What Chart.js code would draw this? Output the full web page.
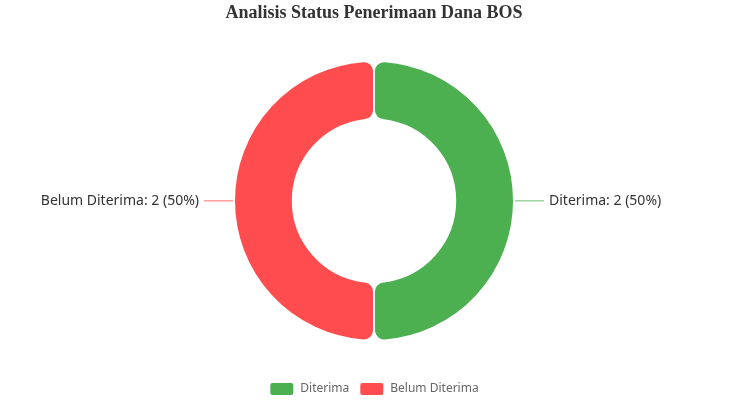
<!DOCTYPE html>
<html>
<head>
<meta charset="utf-8">
<script src="https://cdn.jsdelivr.net/npm/chart.js@4"></script>
<style>
  html, body { margin: 0; padding: 0; background: #fff; }
  #wrap { width: 748px; height: 400px; }
</style>
</head>
<body>
<div id="wrap"><canvas id="myChart"></canvas></div>
<script>
const categories = ['Diterima', 'Belum Diterima'];
const values = [2, 2];
const colors = ['#4caf50', '#ff4d4f'];
const lineColors = ['rgba(76,175,80,0.55)', 'rgba(255,77,79,0.55)'];

const total = values.reduce((a, b) => a + b, 0);

// labels outside the ring with a short leader line
const sideLabels = {
    id: 'sideLabels',
    afterDatasetsDraw(chart) {
        const c = chart.ctx;
        const meta = chart.getDatasetMeta(0);
        c.save();
        c.font = '14px "Noto Sans"';
        c.textBaseline = 'middle';
        meta.data.forEach((arc, i) => {
            const p = arc.getProps(['x', 'y', 'startAngle', 'endAngle', 'outerRadius'], true);
            const mid = (p.startAngle + p.endAngle) / 2;
            const dir = Math.cos(mid) >= 0 ? 1 : -1;
            const sx = p.x + Math.cos(mid) * (p.outerRadius + 1);
            const sy = p.y + Math.sin(mid) * (p.outerRadius + 1);
            const ex = sx + dir * 29;
            c.strokeStyle = lineColors[i];
            c.lineWidth = 1.5;
            c.beginPath();
            c.moveTo(sx, sy);
            c.lineTo(ex, sy);
            c.stroke();
            const pct = Math.round(values[i] / total * 100);
            c.fillStyle = '#333';
            c.textAlign = dir > 0 ? 'left' : 'right';
            c.fillText(`${categories[i]}: ${values[i]} (${pct}%)`, ex + dir * 5, sy);
        });
        c.restore();
    }
};

new Chart(document.getElementById('myChart'), {
    type: 'doughnut',
    data: {
        labels: categories,
        datasets: [{
            data: values,
            backgroundColor: colors,
            borderColor: '#fff',
            borderWidth: 2,
            borderRadius: 10,
            hoverOffset: 0
        }]
    },
    plugins: [sideLabels],
    options: {
        responsive: true,
        maintainAspectRatio: false,
        animation: false,
        radius: 140,
        cutout: '58%',
        layout: { padding: { bottom: -6 } },
        plugins: {
            title: {
                display: true,
                text: 'Analisis Status Penerimaan Dana BOS',
                color: '#333',
                font: { family: '"Liberation Serif", "Times New Roman", serif', size: 18, weight: 'bold', lineHeight: 1.2 },
                padding: { top: 3, bottom: 5 }
            },
            legend: {
                position: 'bottom',
                labels: {
                    boxWidth: 25,
                    boxHeight: 14,
                    useBorderRadius: true,
                    borderRadius: 3,
                    color: '#666',
                    padding: 10,
                    font: { family: '"Noto Sans"', size: 12 }
                }
            },
            tooltip: { enabled: false }
        }
    }
});
</script>
</body>
</html>
